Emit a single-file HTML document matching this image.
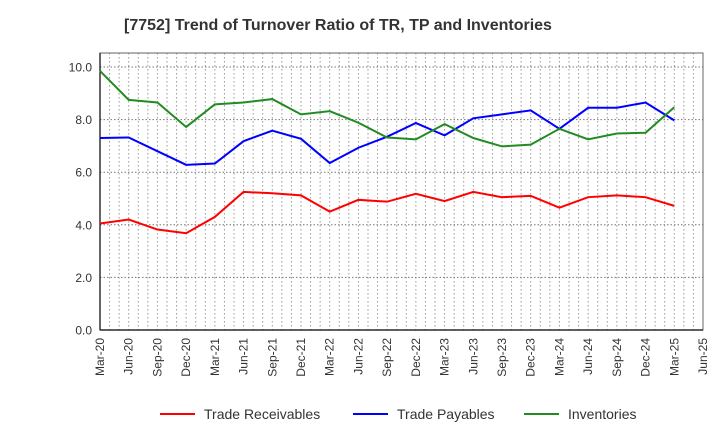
<!DOCTYPE html>
<html><head><meta charset="utf-8"><style>
body{margin:0;background:#fff;font-family:"Liberation Sans",sans-serif;}
</style></head><body>
<svg id="chart" width="720" height="440" xmlns="http://www.w3.org/2000/svg" font-family="Liberation Sans, sans-serif">
<text x="338" y="30" text-anchor="middle" font-size="16" font-weight="bold" fill="#333">[7752]  Trend of Turnover Ratio of TR, TP and Inventories</text>
<g id="grid"></g><g id="axes"></g><g id="series"></g><g id="legend"></g>
</svg>
<script>
const categories=["Mar-20","Jun-20","Sep-20","Dec-20","Mar-21","Jun-21","Sep-21","Dec-21","Mar-22","Jun-22","Sep-22","Dec-22","Mar-23","Jun-23","Sep-23","Dec-23","Mar-24","Jun-24","Sep-24","Dec-24","Mar-25","Jun-25"];
const yTicks=[0,2,4,6,8,10];
const yTickLabels=["0.0","2.0","4.0","6.0","8.0","10.0"];
const receivables=[4.05,4.2,3.82,3.68,4.3,5.25,5.2,5.12,4.5,4.95,4.88,5.18,4.9,5.25,5.05,5.1,4.65,5.05,5.12,5.05,4.72];
const payables=[7.3,7.32,6.8,6.28,6.33,7.18,7.58,7.27,6.35,6.93,7.35,7.87,7.4,8.05,8.2,8.35,7.65,8.45,8.45,8.65,7.97];
const inventories=[9.85,8.75,8.65,7.72,8.58,8.65,8.78,8.2,8.32,7.88,7.32,7.25,7.83,7.3,6.98,7.05,7.65,7.25,7.47,7.5,8.47];
const seriesNames=["Trade Receivables","Trade Payables","Inventories"];
const NS="http://www.w3.org/2000/svg";
const L=100,R=703,T=53,B=330;
const x=i=>L+(R-L)*i/(categories.length-1);
const y=v=>B-v*26.3;
function mk(tag,attrs,parent){const e=document.createElementNS(NS,tag);for(const k in attrs)e.setAttribute(k,attrs[k]);parent.appendChild(e);return e;}
const grid=document.getElementById('grid'),axes=document.getElementById('axes'),ser=document.getElementById('series'),leg=document.getElementById('legend');
for(let m=1;m<(categories.length-1)*3;m++){const xx=L+(R-L)*m/((categories.length-1)*3);
const g=mk('line',{x1:xx,x2:xx,y1:T,y2:B,stroke:'#999','stroke-dasharray':'1.5,2.5','stroke-width':1},grid);

}
yTicks.forEach((t,i)=>{const yy=y(t);
if(t>0){const g=mk('line',{x1:L,x2:R,y1:yy,y2:yy,stroke:'#777','stroke-dasharray':'1.5,2','stroke-width':1},grid);

}
const tx=mk('text',{x:L-8,y:yy+4.5,'text-anchor':'end','font-size':12,fill:'#333'},axes);tx.textContent=yTickLabels[i];

});
const rb=mk('rect',{x:L,y:T,width:R-L,height:B-T,fill:'none',stroke:'#666','stroke-width':1},axes);


const ax=mk('line',{x1:L,x2:L,y1:T,y2:B,stroke:'#000','stroke-width':1.2},axes);


const bx=mk('line',{x1:L,x2:R,y1:B,y2:B,stroke:'#000','stroke-width':1.2},axes);


categories.forEach((c,i)=>{const xx=x(i);
const tx=mk('text',{x:xx+4,y:B+8,'text-anchor':'end','font-size':12,fill:'#333',transform:`rotate(-90 ${xx+4} ${B+8})`},axes);tx.textContent=c;

});
const colors=["#ff0000","#0000ff","#228b22"];
[receivables,payables,inventories].forEach((d,s)=>{
const p=mk('polyline',{points:d.map((v,i)=>x(i)+','+y(v)).join(' '),fill:'none',stroke:colors[s],'stroke-width':2},ser);


const lx=[160,353,524][s];
const ln=mk('line',{x1:lx,x2:lx+35,y1:414,y2:414,stroke:colors[s],'stroke-width':2},leg);


const t=mk('text',{x:lx+44,y:419,'font-size':14,fill:'#333'},leg);t.textContent=seriesNames[s];

});
</script>
</body></html>
